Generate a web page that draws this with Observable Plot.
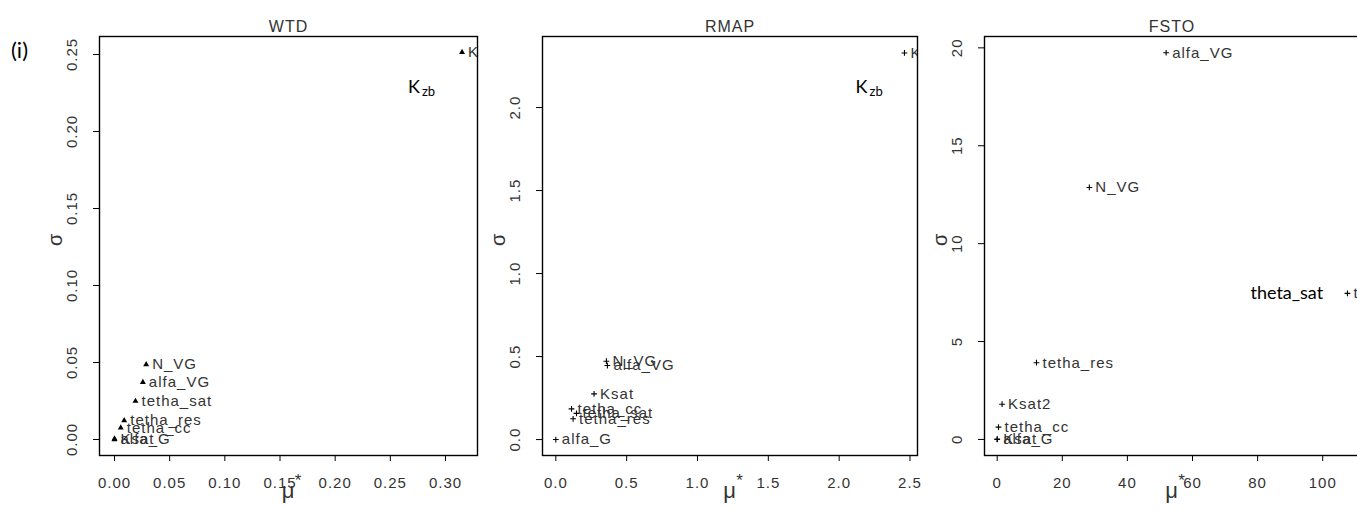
<!DOCTYPE html>
<html>
<head>
<meta charset="utf-8">
<script src="https://cdn.jsdelivr.net/npm/d3@7"></script>
<script src="https://cdn.jsdelivr.net/npm/@observablehq/plot@0.6"></script>
<style>
  body { margin: 0; background: #fff; }
  #wrap { position: relative; width: 1357px; height: 510px; overflow: hidden; background: #fff; }
  #wrap svg { position: absolute; top: 0; overflow: visible; }
  #wrap svg text { letter-spacing: 1px; }
  #tag { position: absolute; left: 11px; top: 36px; font-family: Lato, sans-serif; font-size: 22px; color: #000; }
</style>
</head>
<body>
<div id="wrap"><div id="tag">(i)</div></div>
<script>
// ---- WTD panel ----
const wtdParams = ["K_zb", "N_VG", "alfa_VG", "tetha_sat", "tetha_res", "tetha_cc", "Ksat", "alfa_G"];
const wtdMu     = [0.315, 0.0287, 0.0257, 0.019, 0.0088, 0.0057, 0.0, 0.0];
const wtdSigma  = [0.2515, 0.0487, 0.0372, 0.0249, 0.0123, 0.0076, 0.0005, 0.0];
const wtdXTicks = [0, 0.05, 0.10, 0.15, 0.20, 0.25, 0.30];
const wtdYTicks = [0, 0.05, 0.10, 0.15, 0.20, 0.25];
const wtdXLabels = ["0.00", "0.05", "0.10", "0.15", "0.20", "0.25", "0.30"];
const wtdYLabels = ["0.00", "0.05", "0.10", "0.15", "0.20", "0.25"];
const wtdNoteX = [0.266]; const wtdNoteY = [0.2286]; const wtdNoteMain = ["K"]; const wtdNoteSub = ["zb"];

// ---- RMAP panel ----
const rmapParams = ["K_zb", "N_VG", "alfa_VG", "Ksat", "tetha_cc", "tetha_sat", "tetha_res", "alfa_G"];
const rmapMu     = [2.461, 0.357, 0.364, 0.27, 0.111, 0.146, 0.122, 0.0];
const rmapSigma  = [2.329, 0.472, 0.446, 0.275, 0.185, 0.158, 0.125, 0.0];
const rmapXTicks = [0, 0.5, 1.0, 1.5, 2.0, 2.5];
const rmapYTicks = [0, 0.5, 1.0, 1.5, 2.0];
const rmapXLabels = ["0.0", "0.5", "1.0", "1.5", "2.0", "2.5"];
const rmapYLabels = ["0.0", "0.5", "1.0", "1.5", "2.0"];
const rmapNoteX = [2.116]; const rmapNoteY = [2.12]; const rmapNoteMain = ["K"]; const rmapNoteSub = ["zb"];

// ---- FSTO panel ----
const fstoParams = ["alfa_VG", "N_VG", "tetha_sat", "tetha_res", "Ksat2", "tetha_cc", "Ksat", "alfa_G"];
const fstoMu     = [51.9, 28.3, 107.6, 12.07, 1.5, 0.4, 0.0, 0.0];
const fstoSigma  = [19.75, 12.87, 7.46, 3.92, 1.80, 0.63, 0.02, 0.0];
const fstoXTicks = [0, 20, 40, 60, 80, 100];
const fstoYTicks = [0, 5, 10, 15, 20];
const fstoXLabels = ["0", "20", "40", "60", "80", "100"];
const fstoYLabels = ["0", "5", "10", "15", "20"];
const fstoNoteX = [77.8]; const fstoNoteY = [7.46]; const fstoNoteMain = ["theta_sat"]; const fstoNoteSub = [""];

const panels = [
  {title: "WTD", params: wtdParams, mu: wtdMu, sigma: wtdSigma, xt: wtdXTicks, yt: wtdYTicks, xl: wtdXLabels, yl: wtdYLabels,
   nx: wtdNoteX, ny: wtdNoteY, nm: wtdNoteMain, ns: wtdNoteSub,
   left: 0, width: 480, ml: 99, xd: [-0.0136, 0.329], yd: [-0.0104, 0.2617], sym: "triangle", dotR: 2.2},
  {title: "RMAP", params: rmapParams, mu: rmapMu, sigma: rmapSigma, xt: rmapXTicks, yt: rmapYTicks, xl: rmapXLabels, yl: rmapYLabels,
   nx: rmapNoteX, ny: rmapNoteY, nm: rmapNoteMain, ns: rmapNoteSub,
   left: 480, width: 440, ml: 62, xd: [-0.094, 2.553], yd: [-0.096, 2.428], sym: "plus", dotR: 2},
  {title: "FSTO", params: fstoParams, mu: fstoMu, sigma: fstoSigma, xt: fstoXTicks, yt: fstoYTicks, xl: fstoXLabels, yl: fstoYLabels,
   nx: fstoNoteX, ny: fstoNoteY, nm: fstoNoteMain, ns: fstoNoteSub,
   left: 920, width: 442, ml: 64, xd: [-3.9, 111.3], yd: [-0.82, 20.58], sym: "plus", dotR: 2}
];

const wrap = document.getElementById("wrap");
const tickFont = "Liberation Sans, Arial, sans-serif";

for (const p of panels) {
  const pts = p.params.map((name, i) => ({name, mu: p.mu[i], sigma: p.sigma[i]}));
  const notes = p.nm.map((t, i) => ({main: t, sub: p.ns[i], x: p.nx[i], y: p.ny[i]}));
  const xlab = new Map(p.xt.map((t, i) => [t, p.xl[i]]));
  const ylab = p.yt.map((t, i) => ({v: t, s: p.yl[i]}));
  const dotOpts = p.sym === "triangle"
    ? {x: "mu", y: "sigma", symbol: "triangle", r: p.dotR, fill: "#000", stroke: "none"}
    : {x: "mu", y: "sigma", symbol: "plus", r: p.dotR, stroke: "#000", strokeWidth: 1.1};
  const svg = Plot.plot({
    width: p.width, height: 510,
    marginTop: 36, marginBottom: 55, marginLeft: p.ml, marginRight: 3,
    style: {background: "transparent", overflow: "visible"},
    x: {domain: p.xd, label: null, axis: null},
    y: {domain: p.yd, label: null, axis: null},
    marks: [
      Plot.frame({stroke: "#000", strokeWidth: 1.4}),
      Plot.axisX(p.xt, {tickSize: 6, tickPadding: 16, fontSize: 15, fontFamily: tickFont, fill: "#333", stroke: "#000", tickFormat: d => xlab.get(d), label: null}),
      Plot.axisY(p.yt, {tickSize: 6, fill: "none", stroke: "#000", label: null}),
      Plot.text(ylab, {y: "v", text: "s", frameAnchor: "left", dx: -27, rotate: -90, textAnchor: "middle", lineAnchor: "middle", fontSize: 15, fontFamily: tickFont, fill: "#333"}),
      Plot.dot(pts, dotOpts),
      Plot.text(pts, {x: "mu", y: "sigma", text: "name", dx: 6, textAnchor: "start", lineAnchor: "middle", fontSize: 15, fontFamily: tickFont, fill: "#333", clip: true}),
      Plot.text(notes, {x: "x", y: "y", text: "main", textAnchor: "start", lineAnchor: "middle", fontSize: 18, fontFamily: "Lato", fill: "#000"}),
      Plot.text(notes, {x: "x", y: "y", text: "sub", dx: 14, dy: 4, textAnchor: "start", lineAnchor: "middle", fontSize: 13, fontFamily: "Lato", fill: "#000"}),
      Plot.text([p.title], {frameAnchor: "top", dy: -16, fontSize: 16, fontFamily: tickFont, fill: "#333"}),
      Plot.text(["σ"], {frameAnchor: "left", dx: -44, rotate: -90, fontSize: 20, fontFamily: tickFont, fill: "#333"}),
      Plot.text(["μ"], {frameAnchor: "bottom", dy: 42, fontSize: 22, fontFamily: tickFont, fill: "#333"}),
      Plot.text(["*"], {frameAnchor: "bottom", dx: 10, dy: 30, fontSize: 17, fontFamily: tickFont, fill: "#333"})
    ]
  });
  svg.style.left = p.left + "px";
  d3.select(svg).selectAll('g[font-family="Lato"] text').style("letter-spacing", "0px");
  wrap.appendChild(svg);
}
</script>
</body>
</html>
